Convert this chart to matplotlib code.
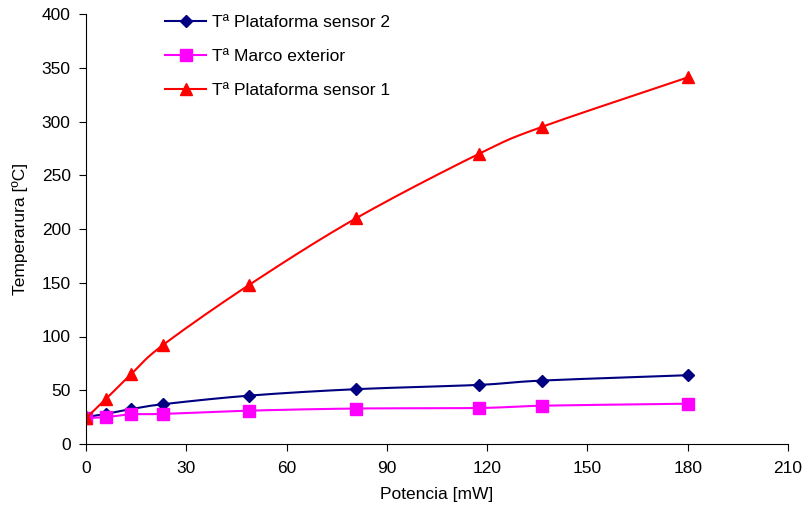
import numpy as np
import matplotlib
matplotlib.use("Agg")
import matplotlib.pyplot as plt

plt.rcParams['font.family'] = ['Liberation Sans', 'DejaVu Sans']

# datos
potencia = [0, 6, 13.5, 23, 48.8, 80.8, 117.6, 136.4, 180]
t_sensor2 = [25, 28, 32.5, 37, 45, 51, 55, 59, 64]
t_marco = [24, 25, 27.6, 28, 31, 33, 33.5, 35.6, 37.5]
t_sensor1 = [24, 42, 65, 92, 148, 210, 270, 295, 341]


def suavizar(x, y, n=20):
    # curva tipo Catmull-Rom entre los puntos (como la linea suavizada de Excel)
    x = np.asarray(x, float)
    y = np.asarray(y, float)
    px = np.concatenate([[2 * x[0] - x[1]], x, [2 * x[-1] - x[-2]]])
    py = np.concatenate([[2 * y[0] - y[1]], y, [2 * y[-1] - y[-2]]])
    xs, ys = [], []
    t = np.linspace(0, 1, n)
    for i in range(1, len(px) - 2):
        for p, out in ((px, xs), (py, ys)):
            p0, p1, p2, p3 = p[i - 1], p[i], p[i + 1], p[i + 2]
            out.extend(0.5 * ((2 * p1) + (-p0 + p2) * t
                              + (2 * p0 - 5 * p1 + 4 * p2 - p3) * t ** 2
                              + (-p0 + 3 * p1 - 3 * p2 + p3) * t ** 3))
    return xs, ys


fig = plt.figure(figsize=(8.06, 5.08), dpi=100)
ax = fig.add_axes([86 / 806, 1 - 444 / 508, (788 - 86) / 806, (444 - 14) / 508])

series = [
    (t_sensor2, "#000080", "D", 6, "Tª Plataforma sensor 2"),
    (t_marco, "#FF00FF", "s", 8, "Tª Marco exterior"),
    (t_sensor1, "#FF0000", "^", 8, "Tª Plataforma sensor 1"),
]
handles = []
for vals, col, mk, ms, lab in series:
    sx, sy = suavizar(potencia, vals)
    ax.plot(sx, sy, color=col, lw=1.5)
    ax.plot(potencia, vals, linestyle="none", marker=mk, color=col, ms=ms)
    h, = ax.plot([], [], color=col, lw=1.5, marker=mk, ms=ms, label=lab)
    handles.append(h)

ax.set_xlim(0, 210)
ax.set_ylim(0, 400)
ax.set_xticks(range(0, 211, 30))
ax.set_yticks(range(0, 401, 50))
ax.spines["top"].set_visible(False)
ax.spines["right"].set_visible(False)
ax.tick_params(direction="out", length=5, labelsize=12.5)
ax.tick_params(axis="x", pad=7)
ax.tick_params(axis="y", pad=6)
ax.set_xlabel("Potencia [mW]", fontsize=12.5, labelpad=8)
ax.set_ylabel("Temperarura [ºC]", fontsize=12.5, labelpad=10)

ax.legend(handles=handles, loc="upper left", bbox_to_anchor=(0.09, 1.035),
          frameon=False, fontsize=12.5, handlelength=2.4, handletextpad=0.3,
          labelspacing=1.1)

fig.savefig("out.png", dpi=100)
